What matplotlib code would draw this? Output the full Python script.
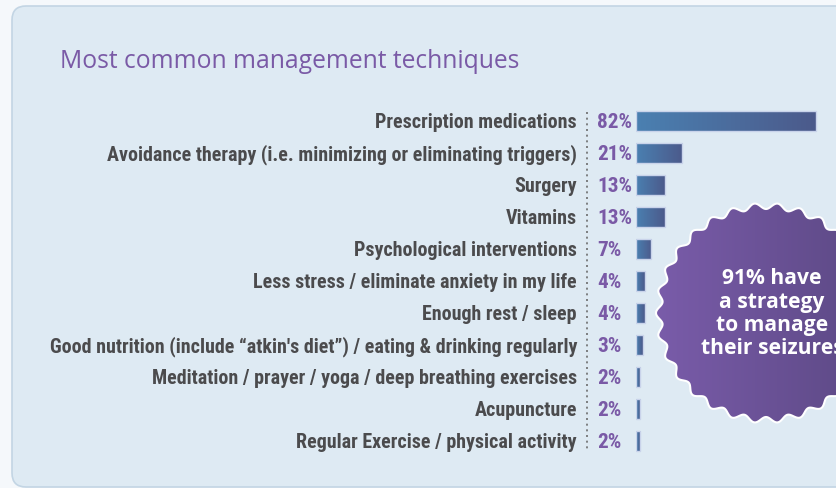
import numpy as np
import matplotlib
matplotlib.use("Agg")
import matplotlib.pyplot as plt
from matplotlib import font_manager
from matplotlib.font_manager import FontProperties
from matplotlib.patches import FancyBboxPatch, Rectangle, Polygon
from matplotlib.colors import LinearSegmentedColormap
from matplotlib.transforms import blended_transform_factory

categories = [
    "Prescription medications",
    "Avoidance therapy (i.e. minimizing or eliminating triggers)",
    "Surgery",
    "Vitamins",
    "Psychological interventions",
    "Less stress / eliminate anxiety in my life",
    "Enough rest / sleep",
    "Good nutrition (include \u201catkin's diet\u201d) / eating & drinking regularly",
    "Meditation / prayer / yoga / deep breathing exercises",
    "Acupuncture",
    "Regular Exercise / physical activity",
]
values = [82, 21, 13, 13, 7, 4, 4, 3, 2, 2, 2]
title = "Most common management techniques"
badge_lines = ["91% have", "a strategy", "to manage", "their seizures"]

entries = font_manager.fontManager.ttflist
names = {f.name for f in entries}

def pick(cands):
    for c in cands:
        if c in names:
            return c
    return "DejaVu Sans"

def font_file(cands, weight):
    for c in cands:
        fs = [f for f in entries if f.name == c and f.style == "normal"
              and "Variable" not in f.fname and "[" not in f.fname]
        if fs:
            def wv(f):
                w = f.weight
                if isinstance(w, str):
                    w = font_manager.weight_dict.get(w, 400)
                return w
            best = min(fs, key=lambda f: abs(wv(f) - weight))
            if abs(wv(best) - weight) <= 100:
                return FontProperties(fname=best.fname)
    return FontProperties(family="DejaVu Sans", weight="bold" if weight >= 600 else "normal")

narrow = pick(["Roboto Condensed", "Archivo Narrow", "PT Sans Narrow", "Asap Condensed",
               "Barlow Semi Condensed", "Barlow Condensed"])
geo_cands = ["Montserrat", "Nunito Sans", "Raleway", "Open Sans"]
title_fp = font_file(geo_cands, 500)
badge_fp = font_file(geo_cands, 700)

W, H = 836, 488
fig = plt.figure(figsize=(W / 100, H / 100), dpi=100)
fig.patch.set_facecolor("#f5f8fb")
renderer = fig.canvas.get_renderer()

def fit(t, target_px):
    fs0 = t.get_fontsize()
    w = t.get_window_extent(renderer).width
    t.set_fontsize(fs0 * target_px / w)

bg = fig.add_axes([0, 0, 1, 1])
bg.set_xlim(0, W)
bg.set_ylim(H, 0)
bg.axis("off")
panel = FancyBboxPatch((12, 6), 900, 481, boxstyle="round,pad=0,rounding_size=14",
                       facecolor="#deeaf3", edgecolor="#c3d5e4", linewidth=1.2)
bg.add_patch(panel)
tt = bg.text(60, 62, title, fontproperties=title_fp, color="#7a5aa6",
             va="center", ha="left")
tt.set_fontsize(15.5)
fit(tt, 460)

px_per_pct = 180 / 82
left_px, right_px = 636, 836
top_px, bot_px = 105, 457
ax = fig.add_axes([left_px / W, 1 - bot_px / H, (right_px - left_px) / W, (bot_px - top_px) / H])
n = len(categories)
ax.axis("off")
ax.patch.set_alpha(0)

bar_cmap = LinearSegmentedColormap.from_list("bar", ["#4a80b1", "#4c5a8b"])
grad = np.linspace(0, 1, 256).reshape(1, -1)
bh = 0.62
for i, v in enumerate(values):
    ax.imshow(grad, extent=[0, v, i + bh / 2, i - bh / 2], aspect="auto",
              cmap=bar_cmap, interpolation="bilinear", zorder=2)
    ax.add_patch(Rectangle((0, i - bh / 2), v, bh, facecolor="none",
                           edgecolor="#c9d3ea", linewidth=1.0, zorder=3))
ax.set_xlim(0, (right_px - left_px) / px_per_pct)
ax.set_ylim(n - 0.5, -0.5)

tr = blended_transform_factory(ax.transAxes, ax.transData)
aw = right_px - left_px
labels, pcts = [], []
for i, (c, v) in enumerate(zip(categories, values)):
    labels.append(ax.text((577 - left_px) / aw, i + 0.05, c, transform=tr, ha="right",
                          va="center", fontsize=12.5, fontweight="bold", color="#4b4b4d",
                          family=narrow, clip_on=False))
    pcts.append(ax.text((597 - left_px) / aw, i + 0.05, f"{v}%", transform=tr, ha="left",
                        va="center", fontsize=13.5, fontweight="bold", color="#7a5aa6",
                        family=narrow, clip_on=False))
fit(labels[7], 527)
for l in labels:
    l.set_fontsize(labels[7].get_fontsize())
fit(pcts[0], 35)
for p in pcts:
    p.set_fontsize(pcts[0].get_fontsize())

bg.plot([587, 587], [112, 452], color="#6d6d6d", linestyle=(0, (1.2, 2.2)), linewidth=1.2)

cx, cy, R = 766, 313, 107
theta = np.linspace(0, 2 * np.pi, 2000)
r = R + 3.0 * np.cos(30 * theta)
xs = cx + r * np.cos(theta)
ys = cy + r * np.sin(theta)
poly = Polygon(np.column_stack([xs, ys]), closed=True, facecolor="none",
               edgecolor="white", linewidth=1.5, zorder=5)
bg.add_patch(poly)
badge_cmap = LinearSegmentedColormap.from_list("badge", ["#7a5caa", "#5b4883"])
im = bg.imshow(grad, extent=[cx - R - 5, cx + R + 5, cy + R + 5, cy - R - 5],
               aspect="auto", cmap=badge_cmap, interpolation="bilinear", zorder=4)
im.set_clip_path(poly)
bg.set_xlim(0, W)
bg.set_ylim(H, 0)
bts = []
for k, line in enumerate(badge_lines):
    t = bg.text(772, 279 + k * 23.3, line, ha="center", va="center",
                fontproperties=badge_fp, color="white", zorder=6)
    t.set_fontsize(13)
    bts.append(t)
fit(bts[0], 99)
for b in bts:
    b.set_fontsize(bts[0].get_fontsize())

fig.savefig("out.png", dpi=100, facecolor=fig.get_facecolor())
